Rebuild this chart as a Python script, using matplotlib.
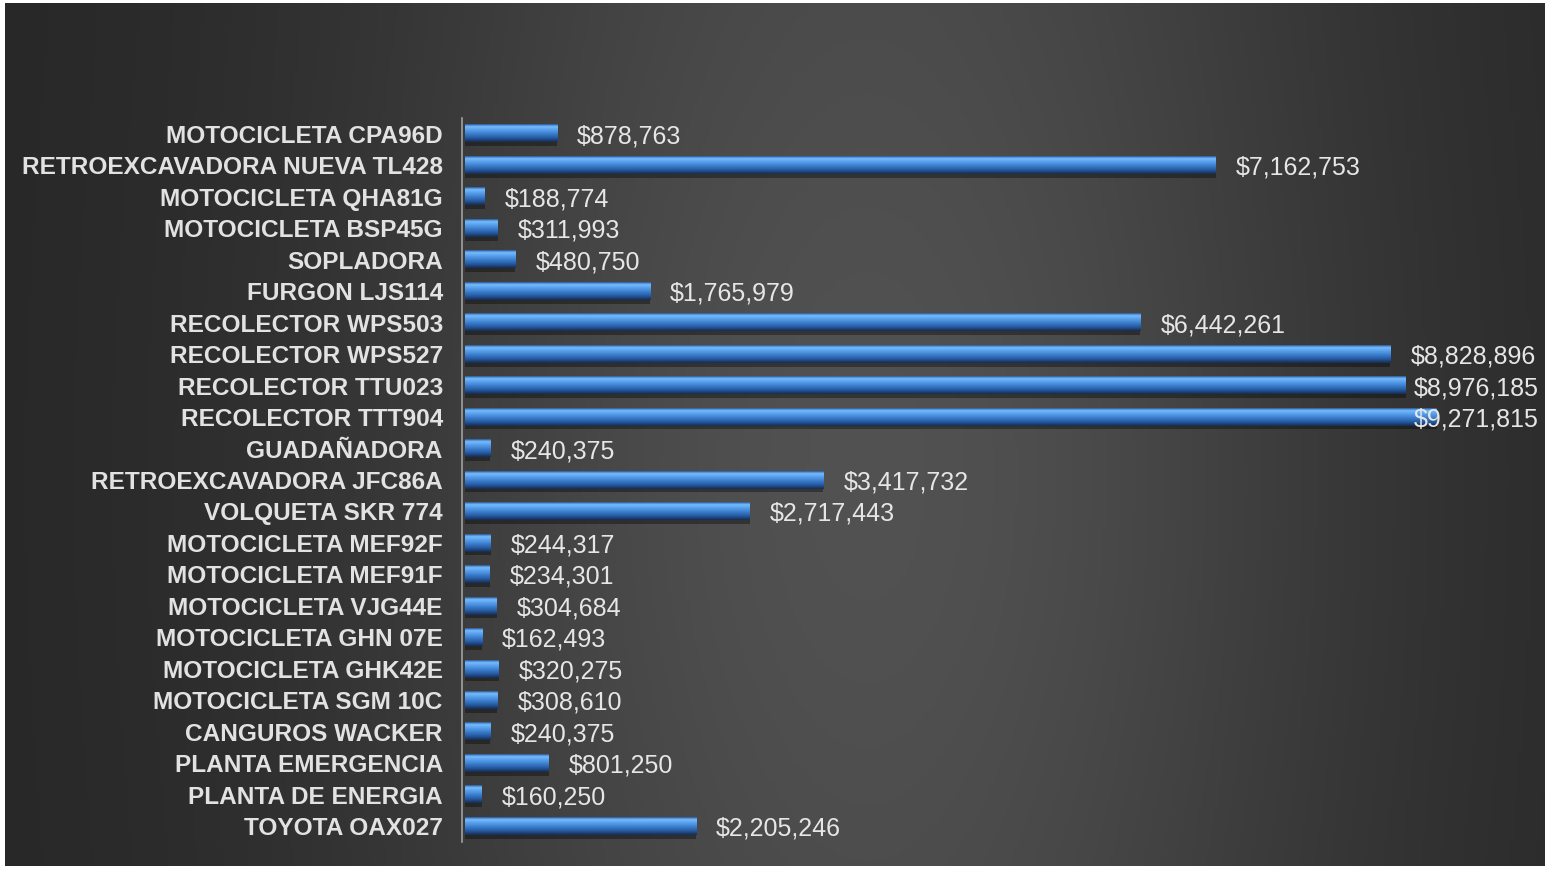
import numpy as np
import matplotlib
matplotlib.use("Agg")
import matplotlib.pyplot as plt
from matplotlib.colors import LinearSegmentedColormap

# Data (top to bottom as shown)
equipos = [
    "MOTOCICLETA CPA96D", "RETROEXCAVADORA NUEVA TL428", "MOTOCICLETA QHA81G",
    "MOTOCICLETA BSP45G", "SOPLADORA", "FURGON LJS114", "RECOLECTOR WPS503",
    "RECOLECTOR WPS527", "RECOLECTOR TTU023", "RECOLECTOR TTT904", "GUADAÑADORA",
    "RETROEXCAVADORA JFC86A", "VOLQUETA SKR 774", "MOTOCICLETA MEF92F",
    "MOTOCICLETA MEF91F", "MOTOCICLETA VJG44E", "MOTOCICLETA GHN 07E",
    "MOTOCICLETA GHK42E", "MOTOCICLETA SGM 10C", "CANGUROS WACKER",
    "PLANTA EMERGENCIA", "PLANTA DE ENERGIA", "TOYOTA OAX027",
]
costos = [
    878763, 7162753, 188774, 311993, 480750, 1765979, 6442261,
    8828896, 8976185, 9271815, 240375, 3417732, 2717443, 244317,
    234301, 304684, 162493, 320275, 308610, 240375, 801250, 160250, 2205246,
]

W, H = 1556, 869
fig = plt.figure(figsize=(W / 100, H / 100), dpi=100, facecolor="white")

# dark panel with soft gradient
bg = fig.add_axes([5 / W, 3 / H, 1540 / W, 863 / H], zorder=0)
xx = np.linspace(0, 1, 400)
yy = np.linspace(0, 1, 240)
X, Y = np.meshgrid(xx, yy)
horiz = np.exp(-((X - 0.56) / 0.33) ** 2)
vert = 0.75 + 0.25 * np.exp(-((Y - 0.55) / 0.6) ** 2)
shade = 0.15 + 0.17 * horiz * vert
bg.imshow(np.dstack([shade] * 3), aspect="auto", extent=[0, 1, 0, 1])
bg.axis("off")

ax = fig.add_axes([465 / W, 1 - 842 / H, 1048 / W, 724 / H], zorder=1)
ax.patch.set_alpha(0)
for s in ["top", "right", "bottom"]:
    ax.spines[s].set_visible(False)
ax.spines["left"].set_position(("outward", 2))
ax.spines["left"].set_color("#a0a0a0")
ax.spines["left"].set_linewidth(1.2)

y = np.arange(len(equipos))
bars = ax.barh(y, costos, height=0.55, color="none", edgecolor="none")

blue = LinearSegmentedColormap.from_list("cyl", [
    (0.0, "#24508e"), (0.12, "#78bdff"), (0.3, "#5aa3ee"),
    (0.55, "#3a7ccc"), (0.8, "#24569a"), (1.0, "#142c50")])
grad = np.linspace(0, 1, 64).reshape(-1, 1)

for b in bars:
    x0, y0, w, h = b.get_x(), b.get_y(), b.get_width(), b.get_height()
    # shadow
    ax.barh(y0 + h / 2 + 0.12, w, height=h, left=x0, color="black",
            alpha=0.35, zorder=1)
    ax.imshow(grad, cmap=blue, aspect="auto", extent=[x0, x0 + w, y0 + h, y0],
              zorder=2, interpolation="bicubic")

ax.set_xlim(0, 1.0e7)
ax.set_ylim(len(equipos) - 0.5, -0.5)
ax.set_xticks([])
ax.set_yticks(y)
ax.set_yticklabels(equipos, fontsize=17.6, fontweight="bold",
                   family="Liberation Sans", color="#e2e2e2")
ax.tick_params(axis="y", length=0, pad=14)

# value labels, kept inside the panel
tope = 8.86e6
for yi, v in zip(y, costos):
    ax.annotate(f"${v:,}", xy=(min(v, tope), yi), xytext=(14.5, 0),
                textcoords="offset points", va="center_baseline", ha="left",
                fontsize=18, family="Liberation Sans", color="#e6e6e6",
                zorder=5)

fig.savefig("out.png", dpi=100, facecolor="white")
